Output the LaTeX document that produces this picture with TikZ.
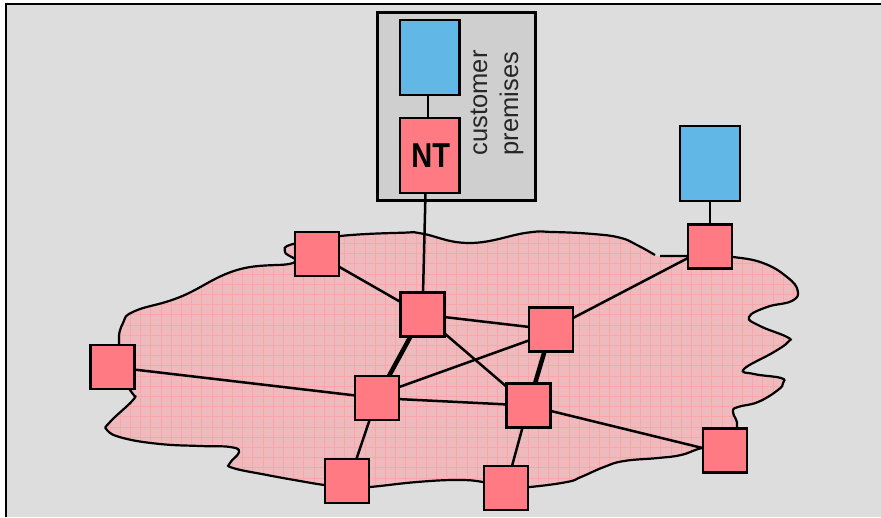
\documentclass[tikz,border=0pt]{standalone}
\usepackage{fontspec}
\setmainfont{Liberation Sans}
\definecolor{bgc}{RGB}{221,221,221}
\definecolor{prem}{RGB}{207,207,207}
\definecolor{redc}{RGB}{255,122,130}
\definecolor{bluec}{RGB}{97,183,229}
\definecolor{blobc}{RGB}{238,186,190}
\definecolor{gridc}{RGB}{250,165,168}
\tikzset{
 netbox/.style={draw=black,line width=2.4pt,fill=redc,inner sep=0pt,outer sep=0pt,minimum size=44pt},
 hostbox/.style={draw=black,line width=2.2pt,fill=bluec,inner sep=0pt,outer sep=0pt,minimum width=59.5pt,minimum height=75pt},
 ntbox/.style={draw=black,line width=2.2pt,fill=redc,inner sep=0pt,outer sep=0pt,minimum width=59.5pt,minimum height=75pt},
 premises/.style={draw=black,line width=2.6pt,fill=prem,inner sep=0pt,outer sep=0pt,minimum width=158pt,minimum height=188pt},
 link/.style={draw=black,line width=2.5pt},
 heavy/.style={draw=black,line width=4.5pt},
 sidelabel/.style={rotate=90,anchor=south west,inner sep=0pt,font=\fontsize{25.5}{25.5}\selectfont,text=black!85}
}
\def\blobpts{(660,256) (687,256) (710,256) (733,257) (763,263) (787,277) (797.7,290.7) (791.7,301) (767,307) (749,317) (760,326) (787,337) (788,342) (774,352) (744,369) (754,374) (781,378) (783,383) (778,390) (758,402) (738,407) (733,412) (737,427) (725,445) (702,448) (681,455) (658,458) (624,461) (604,467) (581,477) (567,482) (530,487) (506,488) (483,482) (457,480) (417,482) (370,487) (347,488) (324,485) (300,481) (267,475) (233,468) (230,463) (239,452) (230,447) (200,446) (160,444) (123,438) (107,430) (110,422) (133,400) (133,394) (125,380) (119,344) (123,323) (135,311) (180,297) (237,270) (293,263) (285,252) (293,244) (340,236) (403,232.7) (421.7,233.5) (470,243) (527,232.7) (553,232) (593,234) (620,237.7) (637,245) (655,255)}
\begin{document}
\begin{tikzpicture}[x=1pt,y=-1pt]
\useasboundingbox (0,0) rectangle (881,517);
\fill[bgc] (6,4) rectangle (881,517);
\draw[black,line width=2.2pt] (6,517) -- (6,4) -- (881,4);
% cloud
\begin{scope}
\clip plot[smooth cycle,tension=0.75] coordinates {\blobpts};
\fill[blobc] (80,220) rectangle (810,500);
\foreach \k in {-5,...,66} \draw[gridc,line width=1pt] (140.7+10.2*\k,220) -- (140.7+10.2*\k,500);
\foreach \k in {-6,...,22} \draw[gridc,line width=1pt] (80,274+10.2*\k) -- (810,274+10.2*\k);
\end{scope}
\draw[black,line width=2.2pt] plot[smooth,tension=0.75] coordinates {\blobpts};
% nodes
\node[premises] (prem) at (456.5,106.5) {};
\node[hostbox] (hosta) at (429.7,57.7) {};
\node[ntbox] (nt) at (429.8,155.7) {\hspace{2pt}\scalebox{.84}[1]{\fontsize{34.5}{34.5}\selectfont\bfseries NT}};
\node[hostbox] (hostb) at (710,163.5) {};
\node[sidelabel] (cust) at (487.5,155.5) {customer};
\node[sidelabel] (prm) at (523.5,155.5) {premises};
\path
 (316.7,254) coordinate (pa)
 (112.5,367) coordinate (pb)
 (422.5,314.5) coordinate (pc)
 (551,329.5) coordinate (pd)
 (377,398) coordinate (pe)
 (528.5,405.5) coordinate (pf)
 (347,481) coordinate (pg)
 (506,488) coordinate (ph)
 (725,450.5) coordinate (pi)
 (710,246.5) coordinate (pj);
\draw[link] (hosta.south -| 428,0) -- (nt.north -| 428,0);
\draw[link] (nt.south -| 425.5,0) -- (pc -| 422.5,0);
\draw[link] (hostb) -- (pj);
\draw[link] (pa) -- (pc);
\draw[link] (pb) -- (pe);
\draw[link] (pc) -- (pd);
\draw[link] (pc) -- (pf);
\draw[heavy] (pc) -- (pe);
\draw[link] ([yshift=-3pt]pd) -- ([yshift=3pt]pe);
\draw[heavy] (pd) -- (pf);
\draw[link] (pe) -- (pf);
\draw[link] (pf) -- ([yshift=-3pt]pi);
\draw[link] (pe) -- ([xshift=2pt]pg);
\draw[link] (pf) -- (ph);
\draw[link] (pd) -- (pj);
\node[netbox] (a) at (pa) {};
\node[netbox] (b) at (pb) {};
\node[netbox] (c) at (pc) {};
\node[netbox] (d) at (pd) {};
\node[netbox] (e) at (pe) {};
\node[netbox] (f) at (pf) {};
\node[netbox] (g) at (pg) {};
\node[netbox] (h) at (ph) {};
\node[netbox] (i) at (pi) {};
\node[netbox] (j) at (pj) {};
\end{tikzpicture}
\end{document}
